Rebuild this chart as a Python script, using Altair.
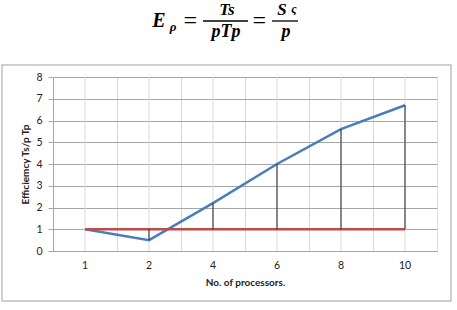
import altair as alt
import pandas as pd

categories = ["1", "2", "4", "6", "8", "10"]
efficiency = [1.0, 0.5, 2.2, 4.0, 5.6, 6.7]
ideal = [1, 1, 1, 1, 1, 1]

df = pd.DataFrame({"p": categories, "eff": efficiency, "ideal": ideal})

W, H = 384, 174
FONT = "Lato"
SERIF = "Liberation Serif"

xenc = alt.X(
    "p:O", sort=categories,
    scale=alt.Scale(type="band", paddingInner=0, paddingOuter=0),
    axis=alt.Axis(
        title="No. of processors.", labelAngle=0, grid=True, bandPosition=0,
        gridColor="#d9d9d9", gridWidth=1, ticks=False, domainColor="#a6a6a6",
        labelFont=FONT, labelFontSize=10.5, labelColor="#222", labelPadding=9,
        titleFont=FONT, titleFontSize=10, titleFontWeight="bold", titleColor="#222",
        titleX=192, titleY=31, titleBaseline="middle",
    ),
)
yscale = alt.Scale(domain=[0, 8], nice=False, zero=True)
yaxis = alt.Axis(
    title="Efficiemcy Ts/p Tp", tickCount=8, labelOverlap=False,
    grid=True, gridColor="#a6a6a6",
    tickColor="#a6a6a6", tickSize=5, domainColor="#a6a6a6",
    labelFont=FONT, labelFontSize=10.5, labelColor="#222", labelPadding=6,
    titleFont=FONT, titleFontSize=10, titleFontWeight="bold", titleColor="#222",
    titleX=-28, titleY=H / 2, titleAngle=-90, titleAlign="center", titleBaseline="middle",
)

center_grid = alt.Chart(df).mark_rule(color="#d9d9d9", strokeWidth=1).encode(
    x=xenc, y=alt.value(0), y2=alt.value(H)
)

blue = alt.Chart(df).mark_line(color="#4a7ebb", strokeWidth=2.5).encode(
    x=xenc, y=alt.Y("eff:Q", scale=yscale, axis=yaxis),
)
red = alt.Chart(df).mark_line(color="#be4b48", strokeWidth=2.5).encode(
    x=xenc, y=alt.Y("ideal:Q", scale=yscale, axis=yaxis)
)
drops = alt.Chart(df).mark_rule(color="#222", strokeWidth=1).encode(
    x=xenc, y=alt.Y("ideal:Q", scale=yscale, axis=yaxis), y2="eff:Q"
)

one = pd.DataFrame({"k": [0]})
border = alt.Chart(one).mark_rect(fill=None, stroke="#c0c0c0", strokeWidth=1.5).encode(
    x=alt.value(-51), x2=alt.value(398), y=alt.value(-12), y2=alt.value(224)
)

# (text, x, y, size, weight)
eq_items = [
    ("E", 106, -50, 20, "bold"),
    ("ρ", 120, -46, 13, "bold"),
    ("=", 137, -49, 24, "normal"),
    ("Ts", 174, -62, 17, "bold"),
    ("pTp", 173, -40, 18, "bold"),
    ("=", 206, -49, 24, "normal"),
    ("S", 229, -62, 17, "bold"),
    ("ς", 241, -64, 12, "bold"),
    ("p", 233, -40, 18, "bold"),
]
eq_layers = []
for txt, xx, yy, fs, fw in eq_items:
    eq_layers.append(
        alt.Chart(one).mark_text(
            text=txt, font=SERIF, fontSize=fs, fontStyle="italic", fontWeight=fw,
            align="center", baseline="alphabetic", color="#000"
        ).encode(x=alt.value(xx), y=alt.value(yy))
    )
bars = [(150, 195), (219, 245)]
for a, b in bars:
    eq_layers.append(
        alt.Chart(one).mark_rule(color="#000", strokeWidth=1.3).encode(
            x=alt.value(a), x2=alt.value(b), y=alt.value(-56)
        )
    )

chart = alt.layer(border, center_grid, blue, red, drops, *eq_layers).properties(
    width=W, height=H,
    autosize=alt.AutoSizeParams(type="none"),
    padding={"left": 53, "top": 77, "right": 20, "bottom": 59},
).configure_view(stroke="#a6a6a6", strokeWidth=1).configure(background="white")

chart.save("out.html", embed_options={"renderer": "svg", "actions": False})
